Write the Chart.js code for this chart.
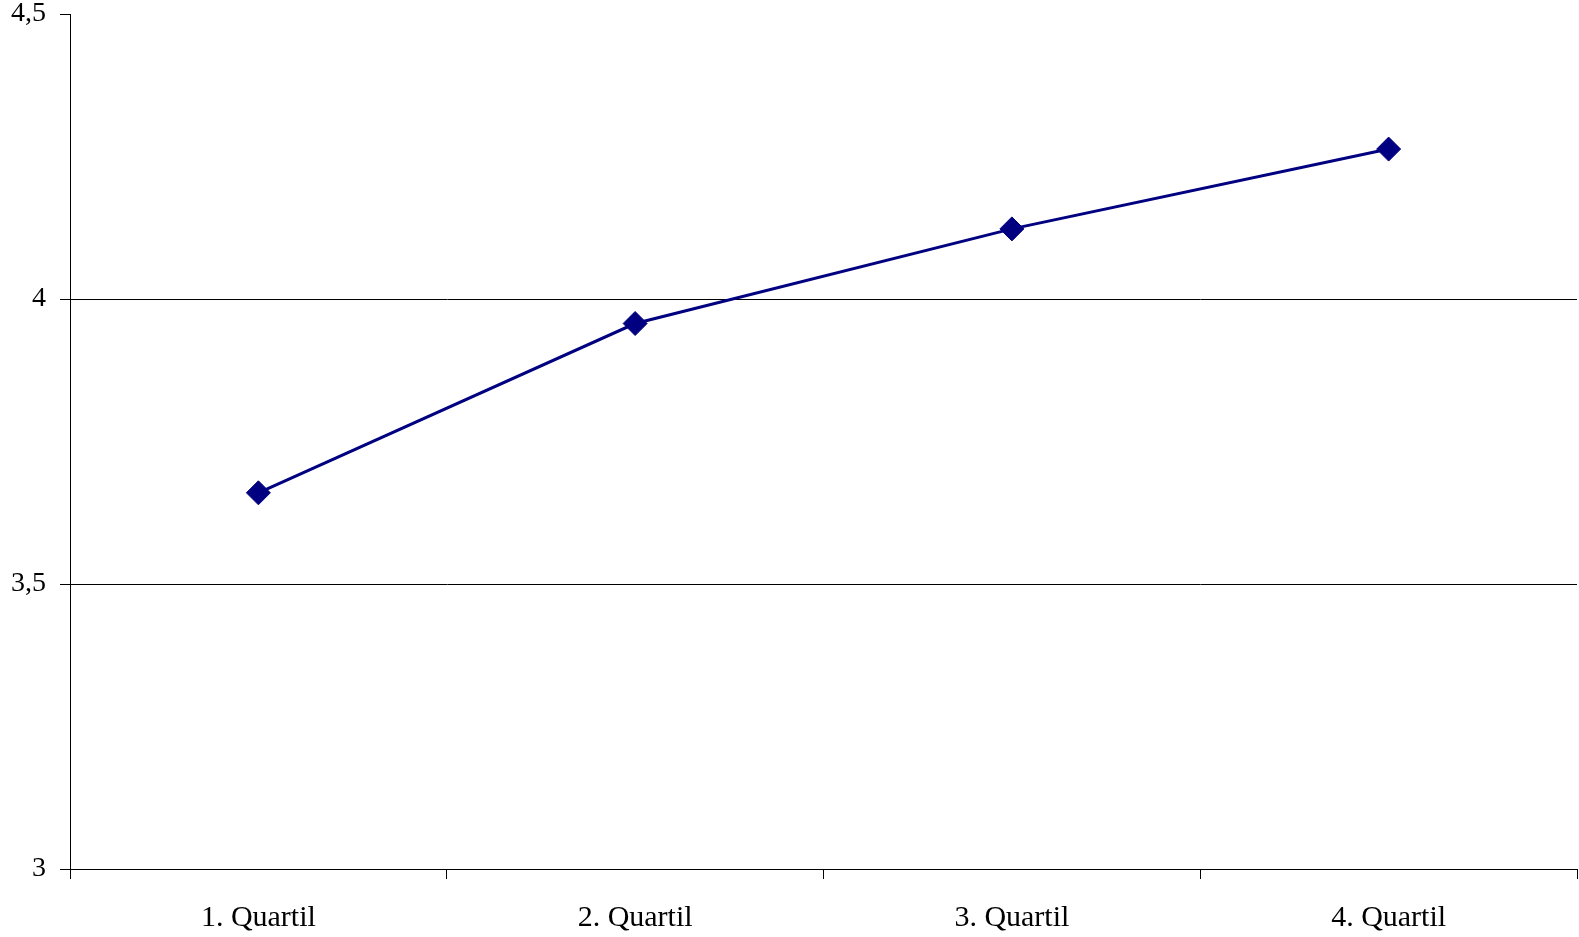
<!DOCTYPE html>
<html>
<head>
<meta charset="utf-8">
<script src="https://cdn.jsdelivr.net/npm/chart.js@4/dist/chart.umd.min.js"></script>
<style>
  html, body { margin: 0; padding: 0; background: #fff; }
  #wrap { width: 1579px; height: 937px; }
</style>
</head>
<body>
<div id="wrap"><canvas id="chart"></canvas></div>
<script>
// Data
const categories = ['1. Quartil', '2. Quartil', '3. Quartil', '4. Quartil'];
const values = [3.66, 3.957, 4.123, 4.263];
const yTicks = [3, 3.5, 4, 4.5];

const ctx = document.getElementById('chart').getContext('2d');

new Chart(ctx, {
  type: 'line',
  data: {
    labels: categories,
    datasets: [
      {
        data: values,
        borderColor: '#000080',
        backgroundColor: '#000080',
        borderWidth: 3,
        pointStyle: 'rectRot',
        pointRadius: 12,
        pointHoverRadius: 12,
        pointBorderWidth: 1,
        tension: 0,
        clip: false,
      },
    ],
  },
  options: {
    responsive: true,
    maintainAspectRatio: false,
    animation: false,
    layout: { autoPadding: false, padding: { top: 14, right: 2, left: 0, bottom: 0 } },
    plugins: { legend: { display: false }, tooltip: { enabled: false } },
    scales: {
      x: {
        offset: true,
        grid: {
          offset: true,
          drawOnChartArea: false,
          drawTicks: true,
          tickLength: 10,
          tickColor: '#000',
          color: '#000',
        },
        border: { color: '#000', width: 1 },
        ticks: {
          color: '#000',
          padding: 21,
          font: { family: '"Liberation Serif", "Times New Roman", serif', size: 30 },
        },
        afterFit: (scale) => {
          scale.height = 68;
          scale.paddingLeft = 0;
          scale.paddingRight = 0;
        },
      },
      y: {
        min: 3,
        max: 4.5,
        afterBuildTicks: (scale) => { scale.ticks = yTicks.map((v) => ({ value: v })); },
        grid: {
          color: (c) => (c.tick && c.tick.value === 4.5 ? 'rgba(0,0,0,0)' : '#000'),
          tickColor: '#000',
          tickLength: 10,
          lineWidth: 1,
        },
        border: { color: '#000', width: 1 },
        ticks: {
          color: '#000',
          padding: 14,
          font: { family: '"Liberation Serif", "Times New Roman", serif', size: 28 },
          callback: (v) => String(v).replace('.', ','),
        },
        afterFit: (scale) => {
          scale.width = 70;
          scale.paddingTop = 0;
          scale.paddingBottom = 0;
        },
      },
    },
  },
});
</script>
</body>
</html>
